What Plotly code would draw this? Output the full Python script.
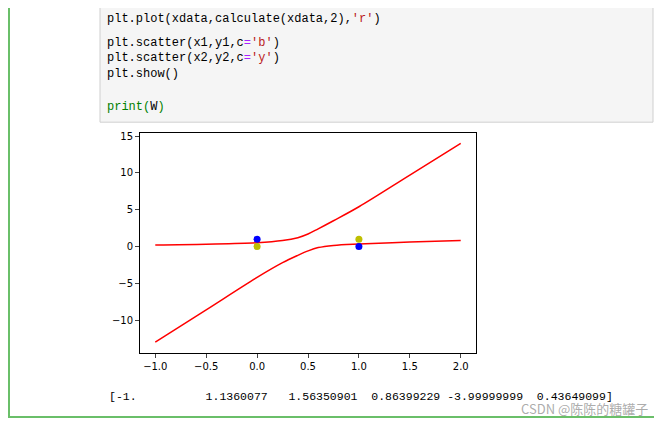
import plotly.graph_objects as go

x_curve = [-1, -0.5, 0, 0.25, 0.4, 0.5, 0.6, 0.75, 1, 1.5, 2]
y_upper = [0.2, 0.3, 0.5, 0.8, 1.2, 1.7, 2.4, 3.5, 5.4, 9.7, 14]
y_lower = [-13, -8.6, -4.2, -2.2, -1.2, -0.6, -0.15, 0.15, 0.35, 0.6, 0.8]
x1, y1 = [0, 1], [1, 0]
x2, y2 = [0, 1], [0, 1]
W_text = "[-1.          1.1360077   1.56350901  0.86399229 -3.99999999  0.43649099]"

OFF = 8
W, H = 662 - OFF, 423 - OFF
def px(x): return (x - OFF) / W
def py(y): return 1 - (y - OFF) / H

fig = go.Figure()
fig.add_trace(go.Scatter(x=x_curve, y=y_upper, mode="lines", line=dict(color="red", width=1.5, shape="spline")))
fig.add_trace(go.Scatter(x=x_curve, y=y_lower, mode="lines", line=dict(color="red", width=1.5, shape="spline")))
fig.add_trace(go.Scatter(x=x1, y=y1, mode="markers", marker=dict(color="blue", size=7)))
fig.add_trace(go.Scatter(x=x2, y=y2, mode="markers", marker=dict(color="#bfbf00", size=7)))

shapes = [
    dict(type="rect", xref="paper", yref="paper", x0=-0.01, x1=px(10), y0=py(418), y1=1.05, fillcolor="#6abf69", line_width=0, layer="below"),
    dict(type="line", xref="paper", yref="paper", x0=0, x1=1, y0=py(417), y1=py(417), line=dict(color="#6abf69", width=2)),
    dict(type="rect", xref="paper", yref="paper", x0=px(100), x1=px(653), y0=py(120), y1=1.05, fillcolor="#f5f5f5", line=dict(color="#cfcfcf", width=1), layer="below"),
]
mono = "Liberation Mono"
code = [
    (16, "plt.plot(xdata,calculate(xdata,2),<span style='color:#ba2121'>'r'</span>)"),
    (40, "plt.scatter(x1,y1,c<span style='color:#aa22ff'>=</span><span style='color:#ba2121'>'b'</span>)"),
    (55, "plt.scatter(x2,y2,c<span style='color:#aa22ff'>=</span><span style='color:#ba2121'>'y'</span>)"),
    (71, "plt.show()"),
    (105, "<span style='color:#008000'>print(</span>W<span style='color:#008000'>)</span>"),
]
ann = []
for y, t in code:
    ann.append(dict(xref="paper", yref="paper", x=px(105), y=py(y), text=t, showarrow=False,
                    xanchor="left", yanchor="middle", font=dict(family=mono, size=12, color="black")))
ann.append(dict(xref="paper", yref="paper", x=px(107), y=py(396), text=W_text.replace(" ", "&nbsp;"), showarrow=False,
                xanchor="left", yanchor="middle", font=dict(family=mono, size=11.5, color="black")))
ann.append(dict(xref="paper", yref="paper", x=px(650), y=py(408), text="CSDN @陈陈的糖罐子", showarrow=False,
                xanchor="right", yanchor="middle", font=dict(family="Noto Sans CJK SC", size=13, color="rgba(150,150,150,0.8)")))

fig.update_layout(
    width=W, height=H, margin=dict(l=0, r=0, t=0, b=0), showlegend=False,
    paper_bgcolor="white", plot_bgcolor="white", shapes=shapes, annotations=ann,
    xaxis=dict(domain=[px(140), px(476)], range=[-1.15, 2.15], tickvals=[-1, -0.5, 0, 0.5, 1, 1.5, 2],
               ticktext=["−1.0", "−0.5", "0.0", "0.5", "1.0", "1.5", "2.0"], showgrid=False, zeroline=False,
               showline=True, mirror=True, linecolor="black", linewidth=1, ticks="outside", ticklen=4,
               tickfont=dict(family="DejaVu Sans", size=10, color="black")),
    yaxis=dict(domain=[py(352), py(131)], range=[-14.4, 15.4], tickvals=[-10, -5, 0, 5, 10, 15],
               ticktext=["−10", "−5", "0", "5", "10", "15"], showgrid=False, zeroline=False,
               showline=True, mirror=True, linecolor="black", linewidth=1, ticks="outside", ticklen=4,
               tickfont=dict(family="DejaVu Sans", size=10, color="black")),
)
fig.write_html("out.html")
